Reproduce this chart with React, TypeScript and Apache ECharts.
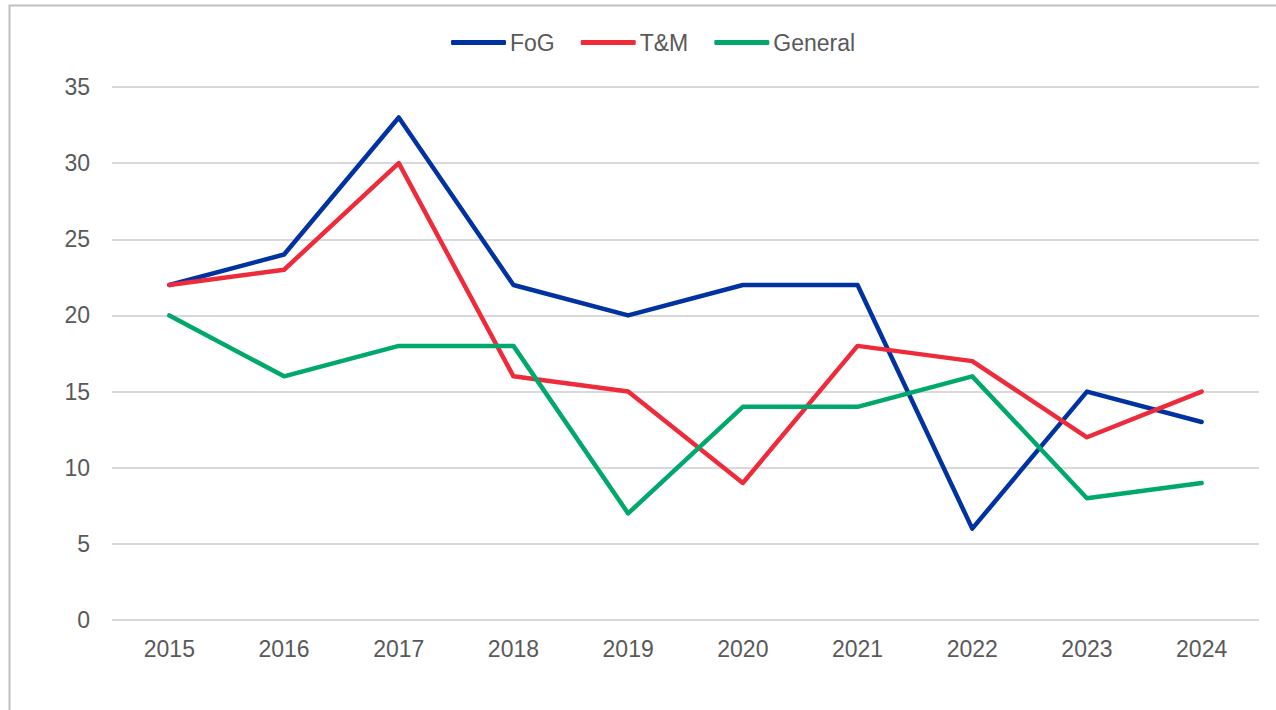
import React, { useEffect, useRef } from "react";
import * as echarts from "echarts";

const years = ["2015", "2016", "2017", "2018", "2019", "2020", "2021", "2022", "2023", "2024"];
const fog = [22, 24, 33, 22, 20, 22, 22, 6, 15, 13];
const tm = [22, 23, 30, 16, 15, 9, 18, 17, 12, 15];
const general = [20, 16, 18, 18, 7, 14, 14, 16, 8, 9];

const FONT = "'Liberation Sans', Arial, sans-serif";
const TEXT = "#595959";
const FS = 23;

export default function App() {
  const ref = useRef<HTMLDivElement>(null);
  useEffect(() => {
    document.body.style.margin = "0";
    const chart = echarts.init(ref.current!, undefined, { renderer: "svg" });
    const mk = (name: string, data: number[], color: string) => ({
      name,
      type: "line",
      data,
      color,
      showSymbol: false,
      symbol: "none",
      lineStyle: { width: 4.5, color, join: "round", cap: "round" },
    });
    chart.setOption({
      animation: false,
      backgroundColor: "#fff",
      textStyle: { fontFamily: FONT },
      graphic: [
        {
          type: "rect",
          shape: { x: 9.5, y: 5.5, width: 1300, height: 800 },
          style: { fill: "none", stroke: "#BFBFBF", lineWidth: 2 },
          silent: true,
        },
      ],
      legend: {
        top: 31,
        left: 451,
        padding: 0,
        icon: "roundRect",
        itemWidth: 55,
        itemHeight: 5,
        itemGap: 26,
        textStyle: { color: TEXT, fontSize: FS, fontFamily: FONT, padding: [0, 0, 0, -1] },
        data: ["FoG", "T&M", "General"],
      },
      grid: { left: 112, right: 17, top: 87, bottom: 90 },
      xAxis: {
        type: "category",
        data: years,
        boundaryGap: true,
        axisLine: { show: false },
        axisTick: { show: false },
        axisLabel: { color: TEXT, fontSize: FS, fontFamily: FONT, margin: 17 },
      },
      yAxis: {
        type: "value",
        min: 0,
        max: 35,
        interval: 5,
        axisLine: { show: false },
        axisTick: { show: false },
        axisLabel: { color: TEXT, fontSize: FS, fontFamily: FONT, margin: 22 },
        splitLine: { lineStyle: { color: "#D9D9D9", width: 2 } },
      },
      series: [
        mk("FoG", fog, "#0033A1"),
        mk("T&M", tm, "#EE2B3B"),
        mk("General", general, "#00A96B"),
      ],
    });
    return () => chart.dispose();
  }, []);
  return <div ref={ref} style={{ width: 1276, height: 710 }} />;
}
